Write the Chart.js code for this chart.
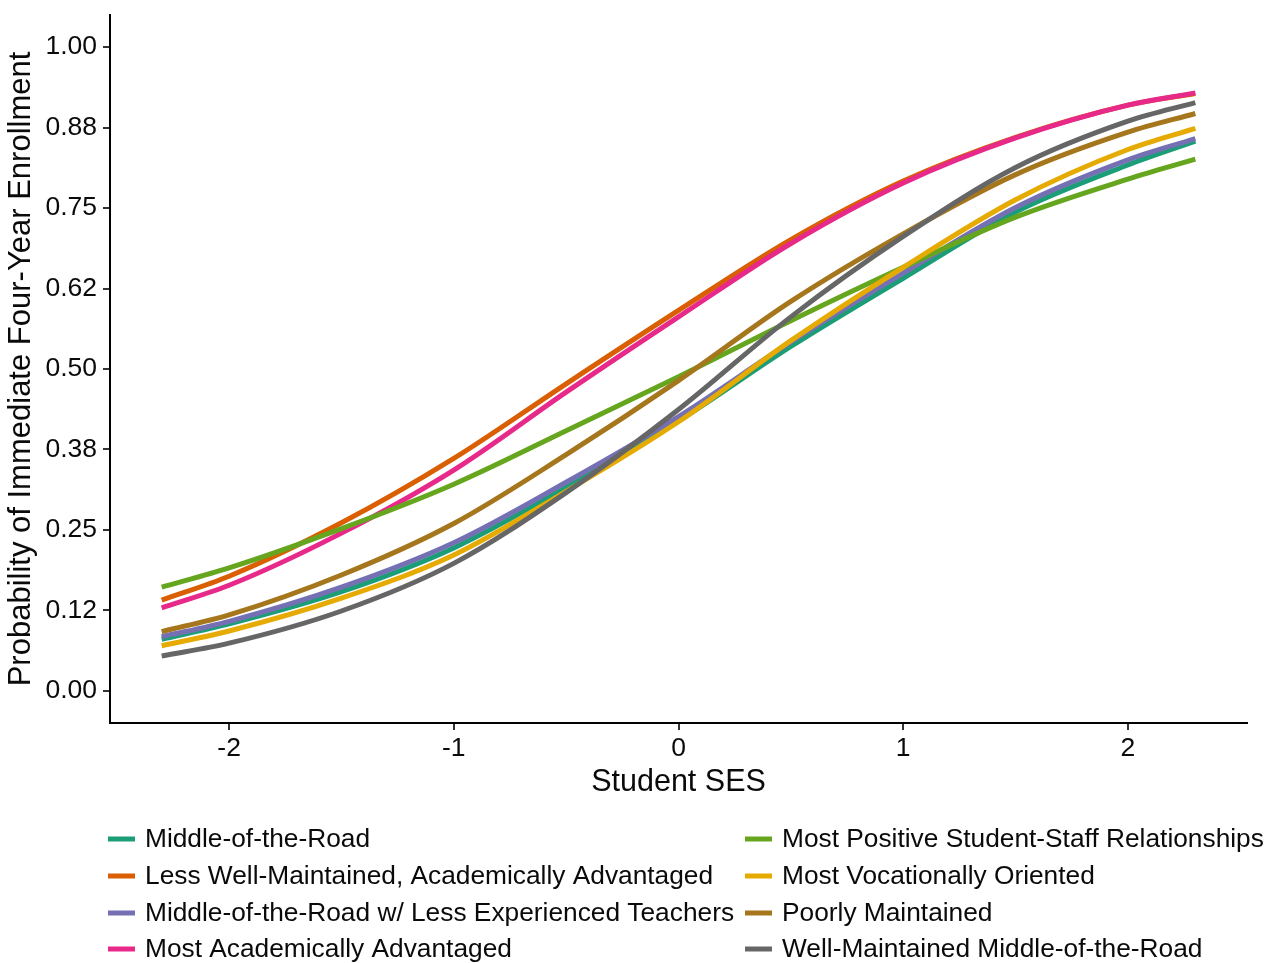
<!DOCTYPE html>
<html>
<head>
<meta charset="utf-8">
<script src="https://cdn.jsdelivr.net/npm/chart.js@4/dist/chart.umd.min.js"></script>
<style>
  html, body { margin: 0; padding: 0; background: #ffffff; }
  #wrap { position: relative; width: 1270px; height: 963px; }
</style>
</head>
<body>
<div id="wrap"><canvas id="c" width="1270" height="963"></canvas></div>
<script>
// Student SES grid where predicted probabilities are evaluated
const sesValues = [-2.3, -2, -1.5, -1, -0.5, 0, 0.5, 1, 1.5, 2, 2.3];

// Predicted probability of immediate four-year enrollment, by school type
const middleOfTheRoad       = [0.080, 0.104, 0.154, 0.222, 0.316, 0.419, 0.535, 0.641, 0.744, 0.817, 0.854];
const lessWellMaintainedAA  = [0.141, 0.178, 0.261, 0.361, 0.477, 0.591, 0.701, 0.792, 0.860, 0.910, 0.928];
const middleLessExperienced = [0.084, 0.108, 0.161, 0.230, 0.324, 0.426, 0.542, 0.649, 0.751, 0.825, 0.858];
const mostAcademicallyAdv   = [0.129, 0.164, 0.245, 0.343, 0.464, 0.581, 0.695, 0.789, 0.859, 0.910, 0.929];
const mostPositiveRelations = [0.161, 0.191, 0.252, 0.321, 0.404, 0.488, 0.575, 0.658, 0.736, 0.795, 0.826];
const mostVocational        = [0.070, 0.093, 0.144, 0.211, 0.310, 0.418, 0.544, 0.658, 0.763, 0.841, 0.874];
const poorlyMaintained      = [0.092, 0.118, 0.180, 0.260, 0.367, 0.482, 0.605, 0.710, 0.802, 0.868, 0.897];
const wellMaintainedMiddle  = [0.054, 0.074, 0.124, 0.198, 0.308, 0.437, 0.581, 0.706, 0.813, 0.885, 0.914];

const seriesNames = [
  'Middle-of-the-Road',
  'Less Well-Maintained, Academically Advantaged',
  'Middle-of-the-Road w/ Less Experienced Teachers',
  'Most Academically Advantaged',
  'Most Positive Student-Staff Relationships',
  'Most Vocationally Oriented',
  'Poorly Maintained',
  'Well-Maintained Middle-of-the-Road'
];
const seriesValues = [
  middleOfTheRoad, lessWellMaintainedAA, middleLessExperienced, mostAcademicallyAdv,
  mostPositiveRelations, mostVocational, poorlyMaintained, wellMaintainedMiddle
];
const seriesColors = ['#1B9E77', '#D95F02', '#7570B3', '#E7298A', '#66A61E', '#E6AB02', '#A6761D', '#666666'];

// Axis ticks
const xTickValues = [-2, -1, 0, 1, 2];
const xTickLabels = ['-2', '-1', '0', '1', '2'];
const yTickValues = [0, 0.125, 0.25, 0.375, 0.5, 0.625, 0.75, 0.875, 1];
const yTickLabels = ['0.00', '0.12', '0.25', '0.38', '0.50', '0.62', '0.75', '0.88', '1.00'];

const FONT = 'Liberation Sans, Arial, Helvetica, sans-serif';
const TEXT = '#0a0a0a';

const datasets = seriesNames.map((name, i) => ({
  label: name,
  data: sesValues.map((x, j) => ({ x: x, y: seriesValues[i][j] })),
  borderColor: seriesColors[i],
  backgroundColor: seriesColors[i],
  borderWidth: 5,
  pointRadius: 0,
  pointHoverRadius: 0,
  fill: false,
  cubicInterpolationMode: 'monotone',
  order: seriesNames.length - i   // later series are painted on top
}));

// Two-column legend below the plot, filled column by column
const bottomLegend = {
  id: 'bottomLegend',
  afterDraw(chart) {
    const ctx = chart.ctx;
    const perCol = 4;
    const colKeyX = [108, 745];
    const rowY = [839, 876, 913, 949];
    ctx.save();
    ctx.font = '26.3px ' + FONT;
    ctx.textBaseline = 'middle';
    ctx.textAlign = 'left';
    seriesNames.forEach((name, i) => {
      const col = Math.floor(i / perCol);
      const row = i % perCol;
      const kx = colKeyX[col];
      const ky = rowY[row];
      ctx.strokeStyle = seriesColors[i];
      ctx.lineWidth = 5;
      ctx.lineCap = 'butt';
      ctx.beginPath();
      ctx.moveTo(kx, ky);
      ctx.lineTo(kx + 27, ky);
      ctx.stroke();
      ctx.fillStyle = TEXT;
      ctx.fillText(name, kx + 37, ky + 1);
    });
    ctx.restore();
  }
};

new Chart(document.getElementById('c'), {
  type: 'line',
  data: { datasets: datasets },
  options: {
    responsive: false,
    animation: false,
    events: [],
    layout: { padding: { left: 0, right: 23, top: 15, bottom: 160 } },
    plugins: { legend: { display: false }, tooltip: { enabled: false } },
    scales: {
      x: {
        type: 'linear',
        min: -2.53,
        max: 2.53,
        afterBuildTicks(scale) { scale.ticks = xTickValues.map(v => ({ value: v })); },
        afterFit(scale) { scale.height = 80; },
        ticks: {
          autoSkip: false,
          maxRotation: 0,
          padding: 3,
          color: TEXT,
          font: { family: FONT, size: 26.5 },
          callback: (v) => xTickLabels[xTickValues.indexOf(v)]
        },
        grid: { drawOnChartArea: false, drawTicks: true, tickLength: 7, color: '#333333', lineWidth: 2 },
        border: { display: true, color: '#000000', width: 2 },
        title: {
          display: true,
          text: 'Student SES',
          color: TEXT,
          font: { family: FONT, size: 30.5 },
          padding: { top: 0, bottom: 2 }
        }
      },
      y: {
        type: 'linear',
        min: -0.05,
        max: 1.05,
        afterBuildTicks(scale) { scale.ticks = yTickValues.map(v => ({ value: v })); },
        afterFit(scale) {
          scale.width = 110;
          // let the plot area reach the layout padding; tick labels stay inside it
          scale.paddingTop = 0;
          scale.paddingBottom = 0;
        },
        ticks: {
          autoSkip: false,
          padding: 6,
          color: TEXT,
          font: { family: FONT, size: 26.5 },
          callback: (v) => yTickLabels[yTickValues.indexOf(v)]
        },
        grid: { drawOnChartArea: false, drawTicks: true, tickLength: 7, color: '#333333', lineWidth: 2 },
        border: { display: true, color: '#000000', width: 2 },
        title: {
          display: true,
          text: 'Probability of Immediate Four-Year Enrollment',
          color: TEXT,
          font: { family: FONT, size: 31 },
          padding: { top: 3, bottom: 0 }
        }
      }
    }
  },
  plugins: [bottomLegend]
});
</script>
</body>
</html>
